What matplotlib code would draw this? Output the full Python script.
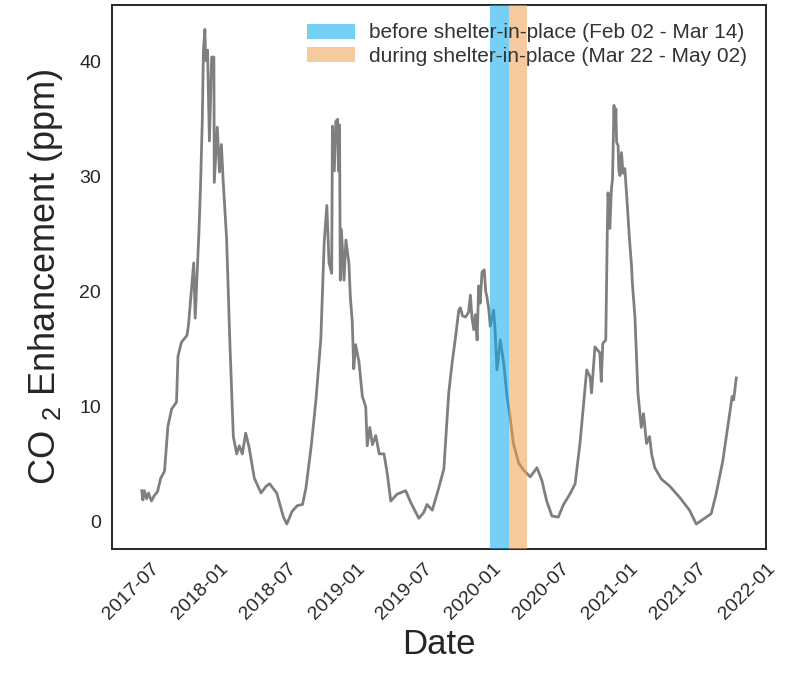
"""
CO2 enhancement time series with the shelter-in-place windows shaded.

Output:
    out.png
"""

import matplotlib

matplotlib.use("Agg")
import matplotlib.dates as mdates
import matplotlib.pyplot as plt
import pandas as pd


# values
DATES = [
    "2017-07-28", "2017-07-31", "2017-08-04", "2017-08-10", "2017-08-15", "2017-08-23",
    "2017-08-31", "2017-09-08", "2017-09-17", "2017-09-27", "2017-10-06", "2017-10-16",
    "2017-10-29", "2017-11-02", "2017-11-11", "2017-11-26", "2017-11-30", "2017-12-14",
    "2017-12-18", "2017-12-24", "2017-12-28", "2018-01-01", "2018-01-06", "2018-01-09",
    "2018-01-13", "2018-01-15", "2018-01-20", "2018-01-25", "2018-01-31", "2018-02-06",
    "2018-02-07", "2018-02-15", "2018-02-21", "2018-02-26", "2018-03-03", "2018-03-12",
    "2018-03-21", "2018-03-30", "2018-04-08", "2018-04-15", "2018-04-23", "2018-05-02",
    "2018-05-11", "2018-05-25", "2018-06-12", "2018-06-26", "2018-07-05", "2018-07-24",
    "2018-08-11", "2018-08-20", "2018-09-03", "2018-09-17", "2018-10-01", "2018-10-10",
    "2018-10-24", "2018-11-06", "2018-11-19", "2018-11-28", "2018-12-05", "2018-12-11",
    "2018-12-18", "2018-12-20", "2018-12-25", "2018-12-29", "2019-01-03", "2019-01-05",
    "2019-01-08", "2019-01-10", "2019-01-13", "2019-01-20", "2019-01-25", "2019-02-02",
    "2019-02-06", "2019-02-11", "2019-02-15", "2019-02-20", "2019-03-01", "2019-03-10",
    "2019-03-19", "2019-03-23", "2019-03-30", "2019-04-06", "2019-04-15", "2019-04-24",
    "2019-05-07", "2019-05-16", "2019-05-25", "2019-06-11", "2019-07-04", "2019-07-17",
    "2019-08-08", "2019-08-21", "2019-08-30", "2019-09-13", "2019-09-30", "2019-10-14",
    "2019-10-23", "2019-10-27", "2019-11-05", "2019-11-14", "2019-11-23", "2019-11-27",
    "2019-12-03", "2019-12-11", "2019-12-19", "2019-12-24", "2019-12-28", "2020-01-02",
    "2020-01-06", "2020-01-11", "2020-01-15", "2020-01-19", "2020-01-24", "2020-01-30",
    "2020-02-03", "2020-02-06", "2020-02-11", "2020-02-15", "2020-02-24", "2020-02-28",
    "2020-03-04", "2020-03-13", "2020-03-22", "2020-03-31", "2020-04-08", "2020-04-17",
    "2020-05-01", "2020-05-14", "2020-06-01", "2020-06-19", "2020-07-02", "2020-07-15",
    "2020-07-29", "2020-08-15", "2020-08-29", "2020-09-15", "2020-09-29", "2020-10-12",
    "2020-10-30", "2020-11-08", "2020-11-12", "2020-11-21", "2020-12-04", "2020-12-08",
    "2020-12-12", "2020-12-20", "2020-12-24", "2020-12-26", "2020-12-31", "2021-01-04",
    "2021-01-07", "2021-01-11", "2021-01-13", "2021-01-16", "2021-01-18", "2021-01-22",
    "2021-01-24", "2021-01-27", "2021-01-31", "2021-02-04", "2021-02-09", "2021-02-14",
    "2021-02-22", "2021-02-27", "2021-03-01", "2021-03-08", "2021-03-16", "2021-03-25",
    "2021-03-31", "2021-04-08", "2021-04-16", "2021-04-22", "2021-04-30", "2021-05-18",
    "2021-06-09", "2021-07-06", "2021-08-01", "2021-08-19", "2021-09-06", "2021-09-28",
    "2021-10-11", "2021-10-29", "2021-11-11", "2021-11-23", "2021-11-27", "2021-12-04",
]
CO2_ENHANCEMENT = [
    2.7, 1.9, 2.7, 2.0, 2.5, 1.8,
    2.3, 2.6, 3.8, 4.4, 8.3, 9.8,
    10.4, 14.4, 15.6, 16.2, 17.1, 22.5,
    17.7, 22.3, 25.2, 28.9, 34.9, 41.0,
    42.8, 40.1, 41.0, 33.1, 40.4, 40.4,
    29.5, 34.3, 30.4, 32.8, 29.5, 24.6,
    15.3, 7.4, 5.9, 6.6, 5.9, 7.7,
    6.5, 3.8, 2.5, 3.1, 3.3, 2.5,
    0.4, -0.2, 0.9, 1.4, 1.5, 2.9,
    6.5, 10.6, 15.9, 24.3, 27.5, 22.5,
    21.6, 34.4, 30.5, 34.8, 35.0, 30.5,
    34.5, 21.0, 25.4, 21.0, 24.5, 22.5,
    19.5, 17.4, 13.3, 15.4, 13.9, 10.9,
    10.0, 6.6, 8.2, 6.7, 7.5, 5.9,
    5.9, 4.1, 1.8, 2.4, 2.7, 1.7,
    0.3, 0.8, 1.5, 1.0, 2.9, 4.6,
    9.1, 11.2, 13.8, 16.0, 18.4, 18.6,
    17.9, 17.8, 18.2, 19.7, 17.8, 16.7,
    18.0, 15.8, 20.5, 19.0, 21.7, 21.9,
    20.0, 19.6, 18.5, 17.0, 18.4, 16.7,
    13.2, 15.8, 13.8, 10.9, 9.1, 6.8,
    5.1, 4.5, 3.9, 4.7, 3.6, 1.8,
    0.5, 0.4, 1.5, 2.4, 3.3, 6.8,
    13.2, 12.6, 11.2, 15.2, 14.7, 12.2,
    15.5, 15.8, 25.1, 28.6, 25.5, 28.9,
    29.8, 36.2, 34.0, 35.9, 33.0, 32.7,
    30.5, 30.1, 32.1, 30.3, 30.7, 28.3,
    24.3, 22.2, 20.8, 17.8, 11.2, 8.2,
    9.4, 6.8, 7.4, 5.8, 4.7, 3.7,
    3.1, 2.1, 1.0, -0.2, 0.2, 0.7,
    2.4, 5.3, 8.2, 10.9, 10.6, 12.5,
]

BEFORE_SPAN = ("2020-02-14", "2020-04-05")
DURING_SPAN = ("2020-04-05", "2020-05-23")
BEFORE_LABEL = "before shelter-in-place (Feb 02 - Mar 14)"
DURING_LABEL = "during shelter-in-place (Mar 22 - May 02)"

plt.rcParams["font.family"] = ["Liberation Sans", "DejaVu Sans"]
plt.rcParams["mathtext.fontset"] = "custom"
plt.rcParams["mathtext.rm"] = "Liberation Sans"


def main() -> None:
    dates = pd.to_datetime(DATES)

    fig = plt.figure(figsize=(8, 6.75), dpi=100)
    ax = fig.add_axes([0.14, 0.187, 0.8175, 0.806])

    ax.plot(dates, CO2_ENHANCEMENT, color="#7f7f7f", linewidth=2.0, zorder=2)
    ax.axvspan(pd.Timestamp(BEFORE_SPAN[0]), pd.Timestamp(BEFORE_SPAN[1]),
               color="#0aa8ee", alpha=0.55, linewidth=0, zorder=3, label=BEFORE_LABEL)
    ax.axvspan(pd.Timestamp(DURING_SPAN[0]), pd.Timestamp(DURING_SPAN[1]),
               color="#f0a050", alpha=0.55, linewidth=0, zorder=3, label=DURING_LABEL)

    ax.xaxis.set_major_locator(mdates.MonthLocator(bymonth=[1, 7]))
    ax.xaxis.set_major_formatter(mdates.DateFormatter("%Y-%m"))
    ax.set_yticks([0, 10, 20, 30, 40])
    ax.tick_params(axis="both", length=0, pad=8, labelsize=14, colors="#262626")
    plt.setp(ax.get_xticklabels(), rotation=45)

    for spine in ax.spines.values():
        spine.set_color("#262626")
        spine.set_linewidth(1.4)

    ax.set_xlabel("Date", fontsize=25, color="#262626")
    ax.set_ylabel(r"CO $_2$ Enhancement (ppm)", fontsize=26, color="#262626", labelpad=10)

    ax.legend(loc="upper right", frameon=False, fontsize=15, handlelength=2.3,
              handleheight=0.75, handletextpad=0.7, labelspacing=0.2,
              labelcolor="#333333", borderaxespad=0.5)

    fig.savefig("out.png", dpi=100)
    plt.close(fig)


if __name__ == "__main__":
    main()
